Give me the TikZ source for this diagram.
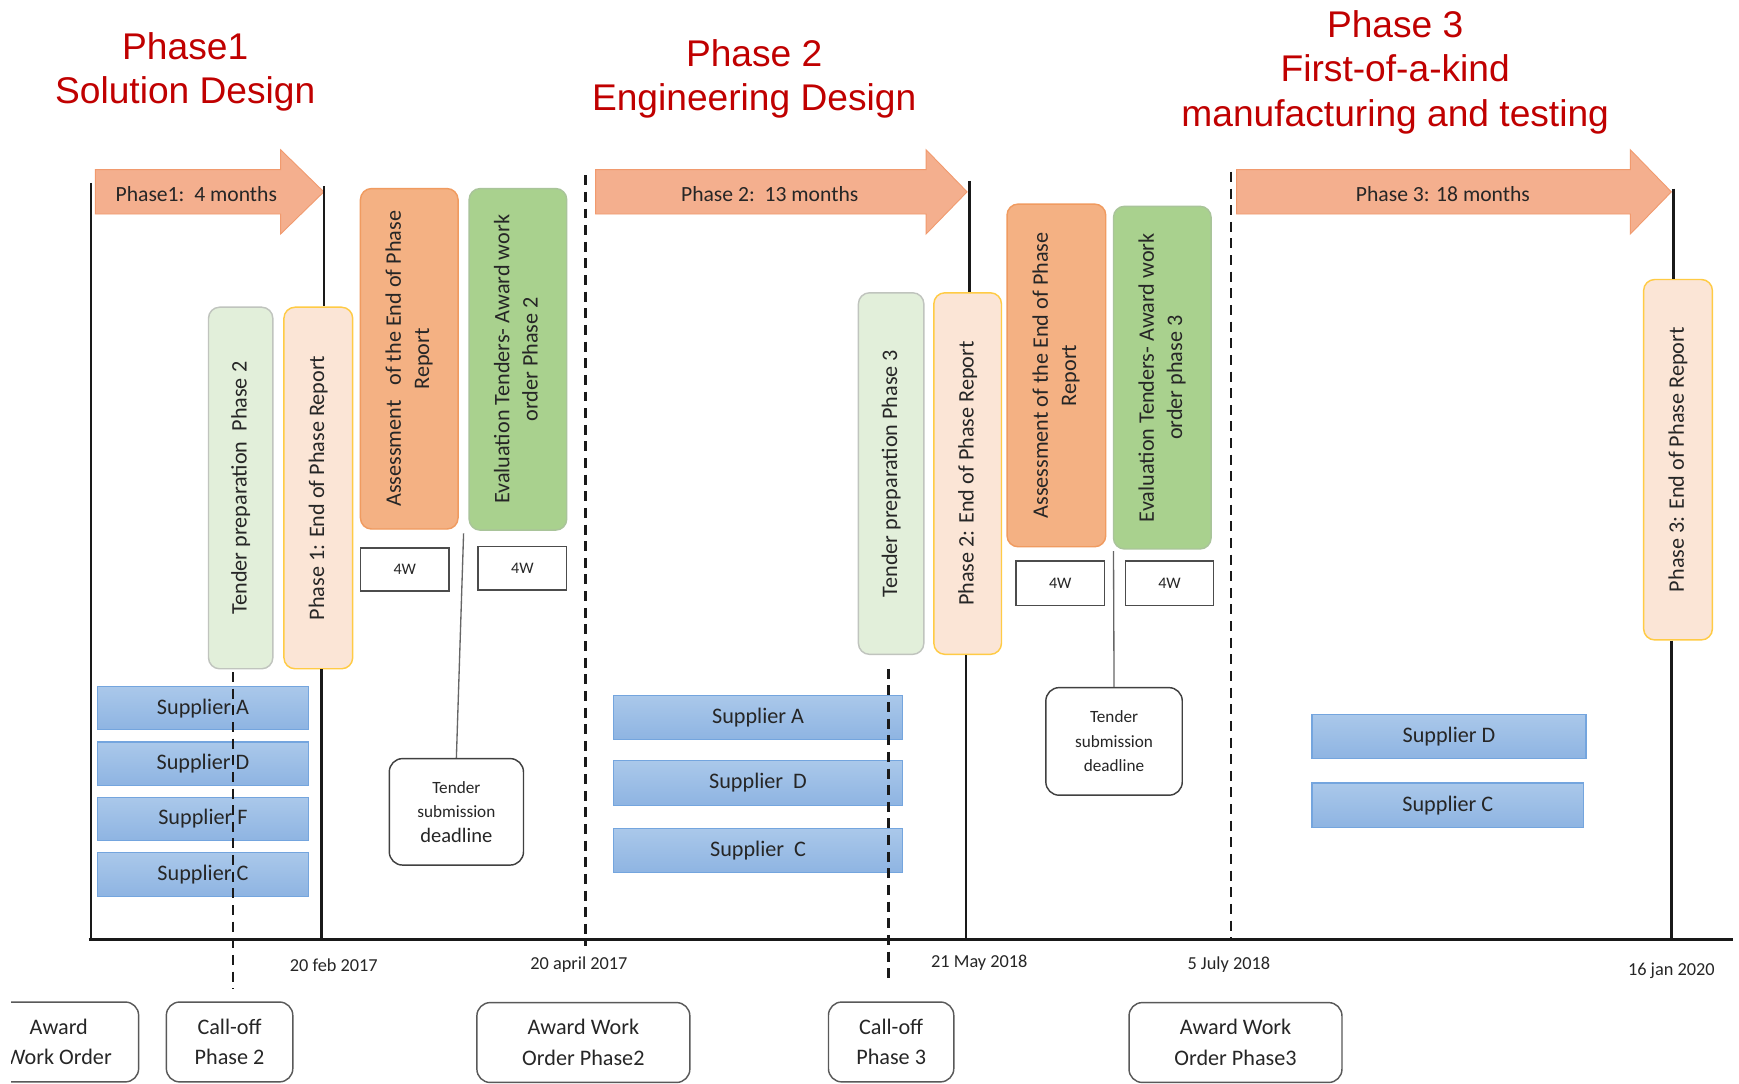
\documentclass[tikz,border=0pt]{standalone}
\usepackage{fontspec}
\setmainfont{Carlito}
\newfontfamily\arialf{Liberation Sans}
\usetikzlibrary{calc}
\definecolor{titlered}{HTML}{C00000}
\definecolor{arrowfill}{HTML}{F4AF8E}
\definecolor{arrowdraw}{HTML}{F19A6E}
\definecolor{tpfill}{HTML}{E2EFDA}
\definecolor{tpdraw}{HTML}{C0C4BE}
\definecolor{rpfill}{HTML}{FBE5D6}
\definecolor{rpdraw}{HTML}{FFCB45}
\definecolor{asfill}{HTML}{F4B183}
\definecolor{asdraw}{HTML}{F09B60}
\definecolor{evfill}{HTML}{A9D18E}
\definecolor{evdraw}{HTML}{A9C49A}
\definecolor{supT}{HTML}{AAC8EA}
\definecolor{supB}{HTML}{8EB4E2}
\definecolor{supD}{HTML}{74A5DE}
\definecolor{txt}{HTML}{262626}
\begin{document}
\begin{tikzpicture}[x=1pt,y=-1pt,
  title/.style={text=titlered, font=\arialf\fontsize{33.5}{40}\selectfont, align=center, inner sep=0pt},
  arrowshape/.style={fill=arrowfill, draw=arrowdraw, line width=0.8pt},
  arrtxt/.style={text=txt, font=\fontsize{19.5}{21}\selectfont, inner sep=0pt},
  vbox/.style={rounded corners=10pt, line width=1.3pt, inner sep=0pt, text=txt, font=\fontsize{20}{25.5}\selectfont},
  tprep/.style={vbox, fill=tpfill, draw=tpdraw},
  repbox/.style={vbox, fill=rpfill, draw=rpdraw},
  assess/.style={vbox, fill=asfill, draw=asdraw},
  evalbox/.style={vbox, fill=evfill, draw=evdraw},
  wbox/.style={draw=black!70, line width=1.3pt, fill=white, inner sep=0pt, text=txt, font=\fontsize{14.5}{16}\selectfont},
  tsd/.style={draw=black!75, fill=white, rounded corners=12pt, line width=1.3pt, align=center, inner sep=0pt, text=txt, font=\fontsize{15.5}{22}\selectfont},
  supbox/.style={draw=supD, top color=supT, bottom color=supB, line width=1pt, inner sep=0pt, text=txt, font=\fontsize{20}{21}\selectfont},
  botbox/.style={draw=black!65, fill=white, rounded corners=12pt, line width=1.3pt, align=center, inner sep=0pt, text=txt, font=\fontsize{20}{27.5}\selectfont},
  datelbl/.style={text=txt, font=\fontsize{16.5}{18}\selectfont, inner sep=0pt},
  solidline/.style={line width=2.2pt, black!90},
  dashline/.style={line width=2.5pt, black!90, dash pattern=on 9pt off 6pt},
  thinline/.style={line width=1.2pt, black!60},
  baseln/.style={line width=2.6pt, black!90}
]
\useasboundingbox (0,0) rectangle (1568,977);
\fill[white] (0,0) rectangle (1568,977);

% titles
\node[title] (title1) at (167,65) {Phase1\\Solution Design};
\node[title] (title2) at (680,71) {Phase 2\\Engineering Design};
\node[title] (title3) at (1258,65) {Phase 3\\First-of-a-kind\\manufacturing and testing};

% phase arrows
\draw[arrowshape] (86,153) -- (253,153) -- (253,135) -- (292,173) -- (253,211) -- (253,193) -- (86,193) -- cycle;
\node[arrtxt] (arr1) at (177,175) {Phase1:~~4 months};
\draw[arrowshape] (537,153) -- (835,153) -- (835,135) -- (872,173) -- (835,211) -- (835,193) -- (537,193) -- cycle;
\node[arrtxt] (arr2) at (694,175) {Phase 2:~~13 months};
\draw[arrowshape] (1115,153) -- (1470,153) -- (1470,135) -- (1507,173) -- (1470,211) -- (1470,193) -- (1115,193) -- cycle;
\node[arrtxt] (arr3) at (1301,175) {Phase 3: 18 months};

% coordinates
\coordinate (bl) at (80,847);
\coordinate (br) at (1563,847);
\coordinate (l0) at (82,165);
\coordinate (tip1) at (292,168);
\coordinate (tip2) at (874,163);
\coordinate (tip3) at (1509,170);
\coordinate (d1) at (528,158);
\coordinate (d1e) at (528,853);
\coordinate (d2) at (1110,155);
\coordinate (d2e) at (1110,847);
\coordinate (c1) at (210,606);
\coordinate (c1e) at (210,892);
\coordinate (c2) at (801,603);
\coordinate (c2e) at (801,885);
\coordinate (g1) at (418,481);
\coordinate (g2) at (1004,497);

% phase 1 boxes
\node[tprep, minimum width=58, minimum height=326] (tp2) at (217,440) {\rotatebox{90}{Tender preparation~~Phase 2}};
\node[repbox, minimum width=62, minimum height=326] (rp1) at (287,440) {\rotatebox{90}{Phase 1: End of Phase Report}};
\node[assess, minimum width=88, minimum height=307] (as1) at (369,323.5) {\rotatebox{90}{\begin{tabular}{@{}c@{}}Assessment~~~of the End of Phase\\Report\end{tabular}}};
\node[evalbox, minimum width=88, minimum height=308] (ev1) at (467,324) {\rotatebox{90}{\begin{tabular}{@{}c@{}}Evaluation Tenders- Award work\\order Phase 2\end{tabular}}};
\node[wbox, minimum width=80, minimum height=39] (w1a) at (365,513.5) {4W};
\node[wbox, minimum width=80, minimum height=39] (w1b) at (471,512.5) {4W};
\node[tsd, minimum width=121, minimum height=96] (ts1) at (411.5,732) {Tender\\submission\\\fontsize{18.5}{22}\selectfont deadline};
\node[supbox, minimum width=190, minimum height=39] (s1a) at (183,638.5) {Supplier A};
\node[supbox, minimum width=190, minimum height=39] (s1d) at (183,688.5) {Supplier D};
\node[supbox, minimum width=190, minimum height=39] (s1f) at (183,738.5) {Supplier F};
\node[supbox, minimum width=190, minimum height=39] (s1c) at (183,788.5) {Supplier C};

% phase 2 boxes
\node[tprep, minimum width=59, minimum height=326] (tp3) at (803.5,427) {\rotatebox{90}{Tender preparation Phase 3}};
\node[repbox, minimum width=61, minimum height=326] (rp2) at (872.5,427) {\rotatebox{90}{Phase 2: End of Phase Report}};
\node[assess, minimum width=89, minimum height=309] (as2) at (952.5,338.5) {\rotatebox{90}{\begin{tabular}{@{}c@{}}Assessment of the End of Phase\\Report\end{tabular}}};
\node[evalbox, minimum width=88, minimum height=309] (ev2) at (1048,340.5) {\rotatebox{90}{\begin{tabular}{@{}c@{}}Evaluation Tenders- Award work\\order phase 3\end{tabular}}};
\node[wbox, minimum width=80, minimum height=40] (w2a) at (956,526) {4W};
\node[wbox, minimum width=79, minimum height=40] (w2b) at (1054.5,526) {4W};
\node[tsd, minimum width=123, minimum height=97] (ts2) at (1004.5,668.5) {Tender\\submission\\deadline};
\node[supbox, minimum width=261, minimum height=40] (s2a) at (683.5,647) {Supplier A};
\node[supbox, minimum width=261, minimum height=40] (s2d) at (683.5,706) {Supplier~~D};
\node[supbox, minimum width=261, minimum height=40] (s2c) at (683.5,767) {Supplier~~C};

% phase 3 boxes
\node[repbox, minimum width=62, minimum height=325] (rp3) at (1513,414.5) {\rotatebox{90}{Phase 3: End of Phase Report}};
\node[supbox, minimum width=247, minimum height=40] (s3d) at (1306.5,664) {Supplier D};
\node[supbox, minimum width=245, minimum height=40] (s3c) at (1305.5,726) {Supplier C};

% lines
\draw[baseln] (bl) -- (br);
\draw[solidline] (l0) -- (l0 |- bl);
\draw[solidline] (tip1) -- (tip1 |- rp1.north);
\draw[solidline] ([xshift=3pt]rp1.south) -- ([xshift=3pt]rp1.south |- bl);
\draw[solidline] (tip2) -- (tip2 |- rp2.north);
\draw[solidline] ([xshift=-1.5pt]rp2.south) -- ([xshift=-1.5pt]rp2.south |- bl);
\draw[solidline] (tip3) -- (tip3 |- rp3.north);
\draw[solidline] ([xshift=-6pt]rp3.south) -- ([xshift=-6pt]rp3.south |- bl);
\draw[dashline] (d1) -- (d1e);
\draw[dashline] (d2) -- (d2e);
\draw[dashline] (c1) -- (c1e);
\draw[dashline] (c2) -- (c2e);
\draw[thinline] (g1) -- (ts1.north);
\draw[thinline] (g2) -- (ts2.north);

% dates
\node[datelbl] (dt1) at (301,870) {20 feb 2017};
\node[datelbl] (dt2) at (522,870) {20 april 2017};
\node[datelbl] (dt3) at (883,868) {21 May 2018};
\node[datelbl] (dt4) at (1108,870) {5 July 2018};
\node[datelbl] (dt5) at (1507,875) {16 jan 2020};

% bottom boxes
\begin{scope}
\clip (10,880) rectangle (1568,977);
\node[botbox, minimum width=144, minimum height=72] (b0) at (53,939.5) {Award\\Work Order};
\end{scope}
\node[botbox, minimum width=114, minimum height=72] (b1) at (207,939.5) {Call-off\\Phase 2};
\node[botbox, minimum width=192, minimum height=72] (b2) at (526,940) {Award Work\\Order Phase2};
\node[botbox, minimum width=113, minimum height=72] (b3) at (803.5,939.5) {Call-off\\Phase 3};
\node[botbox, minimum width=192, minimum height=72] (b4) at (1114,940) {Award Work\\Order Phase3};
\end{tikzpicture}
\end{document}
